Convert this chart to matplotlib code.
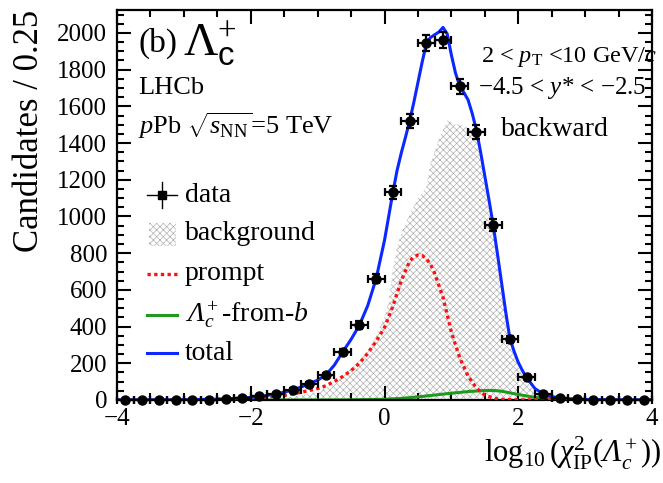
import numpy as np
import matplotlib
matplotlib.use("Agg")
import matplotlib.pyplot as plt
from matplotlib.lines import Line2D
from matplotlib.patches import Rectangle
from matplotlib.ticker import MultipleLocator

plt.rcParams['font.family'] = ['Liberation Serif', 'DejaVu Serif']
plt.rcParams['mathtext.fontset'] = 'custom'
plt.rcParams['mathtext.rm'] = 'Liberation Serif'
plt.rcParams['mathtext.it'] = 'Liberation Serif:italic'
plt.rcParams['mathtext.bf'] = 'Liberation Serif:bold'
plt.rcParams['mathtext.sf'] = 'Liberation Sans'
plt.rcParams['mathtext.cal'] = 'Liberation Serif:italic'
plt.rcParams['hatch.linewidth'] = 0.5

# ---------------- data ----------------
bin_centers = np.arange(-3.875, 4.0, 0.25)
counts = [0, 0, 0, 0, 1, 2, 4, 9,
          20, 33, 56, 88, 137, 264, 408, 661,
          1131, 1519, 1947, 1962, 1709, 1460, 954, 331,
          125, 33, 12, 5, 2, 1, 0, 0]

total_x = [-4.0, -3.0, -2.5, -2.25, -2.0, -1.75, -1.5, -1.25, -1.0, -0.875, -0.75, -0.625,
           -0.5, -0.375, -0.25, -0.125, 0.0, 0.0625, 0.125, 0.1875, 0.25, 0.3125, 0.375,
           0.4375, 0.5, 0.5625, 0.625, 0.6875, 0.75, 0.8125, 0.875, 0.9375, 1.0, 1.0625,
           1.125, 1.1875, 1.25, 1.3125, 1.375, 1.4375, 1.5, 1.5625, 1.625, 1.6875, 1.75,
           1.8125, 1.875, 1.9375, 2.0, 2.0625, 2.125, 2.25, 2.375, 2.5, 2.75, 3.0, 3.5, 4.0]
total_y = [0, 1, 4, 8, 14, 25, 42, 70, 108, 137, 190, 262,
           330, 408, 515, 661, 870, 1000, 1131, 1250, 1345, 1430, 1519,
           1620, 1730, 1840, 1940, 1975, 1990, 2005, 2030, 1995, 1880, 1780,
           1712, 1675, 1635, 1560, 1470, 1350, 1220, 1090, 954, 800, 640,
           480, 335, 265, 205, 160, 122, 62, 33, 18, 7, 3, 1, 0]

prompt_x = [-4.0, -3.0, -2.5, -2.0, -1.75, -1.5, -1.25, -1.0, -0.875, -0.75, -0.625, -0.5,
            -0.375, -0.25, -0.125, 0.0, 0.125, 0.25, 0.375, 0.4375, 0.5, 0.5625, 0.625,
            0.6875, 0.75, 0.875, 1.0, 1.125, 1.25, 1.375, 1.5, 1.625, 1.75, 2.0, 2.5, 4.0]
prompt_y = [0, 1, 4, 11, 17, 25, 42, 62, 78, 101, 128, 160,
            200, 255, 320, 395, 510, 650, 755, 780, 790, 787, 770,
            740, 690, 560, 370, 230, 130, 65, 27, 10, 3, 1, 0, 0]

fromb_x = [-4.0, -1.0, -0.5, 0.0, 0.25, 0.5, 0.75, 1.0, 1.25, 1.5, 1.625, 1.75, 2.0, 2.25,
           2.5, 2.75, 3.0, 4.0]
fromb_y = [0, 0, 1, 4, 9, 17, 27, 37, 46, 52, 52, 48, 30, 14, 6, 2, 1, 0]

bkg_x = [-4.0, -2.5, -2.0, -1.5, -1.25, -1.0, -0.75, -0.5, -0.375, -0.25, -0.125, 0.0,
         0.0625, 0.125, 0.1875, 0.25, 0.375, 0.5, 0.625, 0.6875, 0.75, 0.8125, 0.875,
         0.9375, 0.97, 1.0, 1.0625, 1.125, 1.1875, 1.25, 1.3125, 1.375, 1.4375, 1.5,
         1.5625, 1.625, 1.6875, 1.75, 1.8125, 1.875, 1.9375, 2.0, 2.125, 2.25, 2.375,
         2.5, 2.75, 3.0, 4.0]
bkg_y = [0, 0, 3, 12, 25, 45, 88, 170, 215, 270, 350, 455,
         535, 710, 830, 910, 1010, 1100, 1160, 1290, 1355, 1420, 1470,
         1520, 1535, 1515, 1500, 1505, 1495, 1480, 1465, 1440, 1300, 1170,
         1040, 905, 755, 600, 450, 305, 240, 180, 100, 45, 24,
         10, 3, 1, 0]

legend_labels = ['data', 'background', 'prompt', r'$\mathcal{\Lambda}_c^+$-from-$b$', 'total']

# ---------------- figure ----------------
W, H = 663, 483
fig = plt.figure(figsize=(W / 100, H / 100), dpi=100)

def fx(px):
    return px / W

def fy(py):
    return 1 - py / H

ax = fig.add_axes([fx(117), fy(400), (652 - 117) / W, (400 - 10) / H])
ax.set_xlim(-4, 4)
ax.set_ylim(0, 2125)

c_blue = '#0a28ff'
c_red = '#ff1010'
c_green = '#1e9a1e'
hatch_col = '#b0b0b0'

ax.fill_between(bkg_x, 0, bkg_y, facecolor='white', edgecolor=hatch_col,
                hatch='xxxxx', linewidth=0, zorder=1)
ax.plot(fromb_x, fromb_y, color=c_green, lw=2.2, zorder=2)
ax.plot(prompt_x, prompt_y, color=c_red, lw=2.4, ls=(0, (1, 1)), zorder=3)
ax.plot(total_x, total_y, color=c_blue, lw=2.2, zorder=4)
ax.errorbar(bin_centers, counts, xerr=0.125, yerr=np.sqrt(counts), fmt='o',
            color='black', ms=6.5, elinewidth=1.6, capsize=3, capthick=1.6,
            zorder=5, clip_on=False)

# axes styling
for sp in ax.spines.values():
    sp.set_linewidth(1.6)
ax.xaxis.set_major_locator(MultipleLocator(2))
ax.xaxis.set_minor_locator(MultipleLocator(0.5))
ax.yaxis.set_major_locator(MultipleLocator(200))
ax.yaxis.set_minor_locator(MultipleLocator(50))
ax.tick_params(which='both', direction='in', top=True, right=True, width=1.5)
ax.tick_params(which='major', length=10, labelsize=18)
ax.tick_params(which='minor', length=5)
ax.tick_params(axis='x', pad=6)
ax.tick_params(axis='y', pad=7)

# axis titles
fig.text(fx(30), fy(131), 'Candidates / 0.25', rotation=90, ha='center',
         va='center', fontsize=25)
fig.text(fx(661), fy(453), r'$\log_{10}(\chi^2_{\rm IP}(\mathcal{\Lambda}_c^+))$',
         ha='right', va='center', fontsize=22)

# annotations
fig.text(fx(138), fy(43), '(b)', ha='left', va='center', fontsize=24)
fig.text(fx(183), fy(56), r'$\Lambda^{+}_{\mathsf{c}}$', ha='left', va='baseline',
         fontsize=34)
fig.text(fx(138), fy(88), 'LHCb', ha='left', va='center', fontsize=19)
fig.text(fx(138), fy(126), r'$p$Pb $\sqrt{s_{\rm NN}}$=5 TeV', ha='left',
         va='center', fontsize=19)
fig.text(fx(481), fy(57), r'2 < $p_{\rm T}$ <10 GeV/$c$', ha='left', va='center',
         fontsize=17.5)
fig.text(fx(478), fy(88), '\u22124.5 < $y$* < \u22122.5', ha='left', va='center',
         fontsize=18)
fig.text(fx(501), fy(130), 'backward', ha='left', va='center', fontsize=20)

# legend (manual)
ys = [195, 234, 274, 315, 353]
x0, x1, xm = 147, 177, 162
tf = fig.transFigure
fig.add_artist(Line2D([fx(x0), fx(x1)], [fy(ys[0]), fy(ys[0])], color='black', lw=1.0,
                      transform=tf))
fig.add_artist(Line2D([fx(xm), fx(xm)], [fy(ys[0] - 13), fy(ys[0] + 13)], color='black',
                      lw=1.0, transform=tf))
fig.add_artist(Line2D([fx(xm)], [fy(ys[0])], color='black', marker='s', ms=6,
                      transform=tf))
fig.add_artist(Rectangle((fx(149), fy(246)), (176 - 149) / W, (246 - 223) / H,
                         facecolor='white', edgecolor=hatch_col, hatch='xxxxx',
                         linewidth=0, transform=tf))
fig.add_artist(Line2D([fx(x0), fx(x1)], [fy(ys[2]), fy(ys[2])], color=c_red, lw=2.4,
                      ls=(0, (1, 1)), transform=tf))
fig.add_artist(Line2D([fx(x0), fx(x1)], [fy(ys[3]), fy(ys[3])], color=c_green, lw=2.2,
                      transform=tf))
fig.add_artist(Line2D([fx(x0), fx(x1)], [fy(ys[4]), fy(ys[4])], color=c_blue, lw=2.2,
                      transform=tf))
for yy, lab in zip(ys, legend_labels):
    fig.text(fx(185), fy(yy), lab, ha='left', va='center', fontsize=20)

fig.savefig('out.png', dpi=100)
